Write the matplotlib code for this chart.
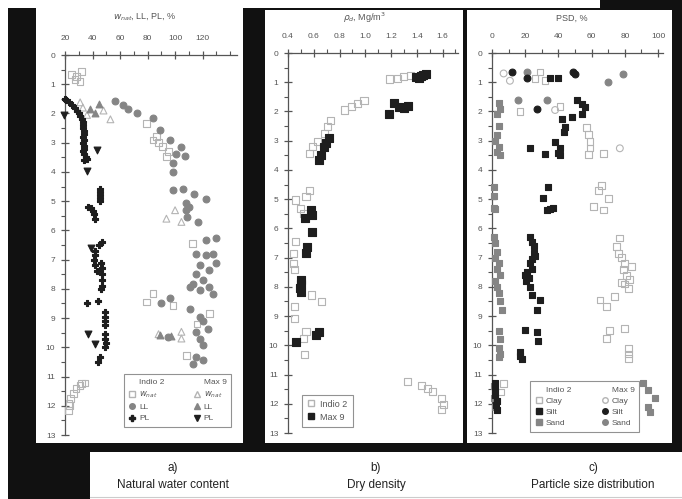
import matplotlib
matplotlib.use("Agg")
import matplotlib.pyplot as plt
from matplotlib.patches import Rectangle
from matplotlib.lines import Line2D
from matplotlib.ticker import MultipleLocator

plt.rcParams['font.family'] = ['Liberation Sans', 'DejaVu Sans']

# ---------------- a) natural water content, LL, PL ----------------
indio_wnat_x = [24.8, 28.4, 32, 30.9, 27.2, 79, 86.4, 91, 93.7, 84, 88, 95, 112.8, 84, 79, 98.5, 125, 116,
                108.2, 34.5, 30.9, 28, 26, 24.1, 22.9, 22.4, 23, 32]
indio_wnat_d = [0.68, 0.74, 0.57, 0.91, 0.85, 2.34, 2.8, 3.14, 3.48, 2.91, 3.0, 3.3, 6.46, 8.16, 8.45, 8.56,
                8.85, 9.2, 10.27, 11.22, 11.3, 11.42, 11.59, 11.76, 11.93, 12.16, 12.0, 11.25]
indio_ll_x = [56, 62, 66, 72, 84, 89, 96, 101, 107, 98.5, 98.5, 104, 98.5, 105.7, 114, 122.7, 108, 108,
              108.5, 116.6, 110, 122.7, 130, 115.4, 122.7, 127.5, 125, 115.4, 120.3, 113, 125, 118, 127.5,
              110.6, 130, 118, 96, 90, 110.6, 118, 120, 124, 94.8, 115.4, 118, 120.3, 115.4, 120.3, 113]
indio_ll_d = [1.56, 1.7, 1.86, 2.0, 2.17, 2.57, 2.91, 3.37, 3.46, 3.71, 4.0, 3.15, 4.62, 4.57, 4.74, 4.94,
              5.08, 5.31, 5.54, 5.71, 5.2, 6.34, 6.27, 6.8, 6.85, 6.8, 7.36, 7.48, 7.7, 7.82, 7.93, 8.05,
              8.16, 7.93, 7.1, 7.2, 8.33, 8.5, 8.68, 8.96, 9.1, 9.36, 9.65, 9.47, 9.7, 9.93, 10.33, 10.44,
              10.56]
indio_pl_x = [20, 21, 23, 25, 27, 29, 30, 31, 32, 33, 33, 33, 33.5, 33.5, 33, 33.5, 33, 33.5, 34, 33, 34,
              35, 34, 36, 45.4, 45.4, 45.4, 45.4, 45.4, 37, 39, 40, 41, 41.7, 46.6, 45, 41.7, 42, 41, 42,
              43.5, 46, 46.6, 47, 46.6, 47, 46, 44, 36.2, 49, 49, 49, 49, 49, 49, 49.5, 49, 45.4, 44.2]
indio_pl_d = [1.5, 1.55, 1.62, 1.7, 1.8, 1.9, 2.0, 2.1, 2.2, 2.3, 2.4, 2.5, 2.6, 2.7, 2.8, 2.9, 3.0, 3.1,
              3.2, 3.3, 3.4, 3.5, 3.6, 3.55, 4.6, 4.7, 4.8, 4.9, 5.0, 5.2, 5.25, 5.35, 5.45, 5.6, 6.4, 6.5,
              6.7, 6.85, 7.0, 7.2, 7.4, 7.1, 7.3, 7.5, 7.7, 7.9, 8.0, 8.4, 8.5, 8.8, 8.95, 9.1, 9.25, 9.55,
              9.7, 9.85, 10.0, 10.33, 10.5]
max_wnat_x = [31, 33, 36, 53, 48, 93.7, 100, 104.6, 88, 104.6, 104.6]
max_wnat_d = [1.62, 1.8, 2.05, 2.2, 1.9, 5.6, 5.31, 5.71, 9.55, 9.47, 9.7]
max_ll_x = [45, 38, 42, 88.8, 97]
max_ll_d = [1.68, 1.85, 2.0, 9.59, 9.6]
max_pl_x = [19, 43, 36, 37, 41.7, 39]
max_pl_d = [2.05, 3.25, 3.97, 9.53, 9.87, 6.6]

# ---------------- b) dry density ----------------
indio_rho_x = [1.185, 1.25, 1.30, 1.35, 0.836, 0.89, 0.94, 0.99, 0.73, 0.71, 0.68, 0.63, 0.59, 0.565,
               0.565, 0.54, 0.46, 0.50, 0.52, 0.46, 0.44, 0.44, 0.45, 0.58, 0.66, 0.45, 0.45, 0.54, 0.52,
               0.53, 1.33, 1.44, 1.48, 1.52, 1.59, 1.61, 1.59]
indio_rho_d = [0.89, 0.87, 0.81, 0.76, 1.95, 1.84, 1.72, 1.61, 2.3, 2.52, 2.75, 3.03, 3.2, 3.43, 4.69,
               4.91, 5.03, 5.31, 5.48, 6.46, 6.85, 7.2, 7.4, 8.28, 8.51, 8.68, 9.08, 9.53, 9.76, 10.33,
               11.24, 11.36, 11.47, 11.58, 11.81, 12.04, 12.2]
max_rho_x = [1.39, 1.43, 1.47, 1.42, 1.45, 1.22, 1.26, 1.30, 1.33, 1.185, 0.72, 0.695, 0.68, 0.64, 0.66,
             0.58, 0.59, 0.53, 0.59, 0.55, 0.54, 0.5, 0.5, 0.49, 0.5, 0.64, 0.62, 0.46]
max_rho_d = [0.83, 0.79, 0.73, 0.86, 0.76, 1.72, 1.84, 1.89, 1.8, 2.09, 2.92, 3.09, 3.2, 3.66, 3.5, 5.37,
             5.54, 5.66, 6.11, 6.63, 6.85, 7.77, 7.9, 8.05, 8.17, 9.53, 9.65, 9.88]

# ---------------- c) particle size distribution ----------------
indio_clay_x = [28.9, 25.9, 31.9, 16.9, 41, 57, 58, 59, 59, 58, 67, 66, 70, 61, 67, 64, 77, 75, 76, 78,
                80, 79, 81, 83, 80, 82, 78, 84, 65, 69, 74, 71, 69, 80, 82, 82, 82, 6.8, 5]
indio_clay_d = [0.65, 0.87, 0.93, 1.99, 1.84, 2.56, 2.8, 3.03, 3.25, 3.47, 3.43, 4.52, 4.97, 5.25, 5.37,
                4.7, 6.33, 6.63, 6.85, 7.0, 7.2, 7.4, 7.6, 7.75, 7.9, 8.05, 7.85, 7.3, 8.45, 8.68, 8.33,
                9.48, 9.76, 9.42, 10.1, 10.3, 10.45, 11.3, 11.6]
indio_silt_x = [35, 40, 51, 54, 56, 54, 48, 42, 44, 43.6, 38, 41, 40, 31.9, 22.9, 41, 34, 31, 33.3, 37, 35,
                23, 24, 25, 25, 23, 24, 20, 20.5, 23, 22, 21, 24, 26, 24, 29, 27, 20, 27, 28, 17, 18, 17,
                1.8, 2, 2.8, 2.5, 2, 3]
indio_silt_d = [0.87, 0.87, 1.62, 1.73, 1.86, 2.07, 2.18, 2.27, 2.52, 2.7, 3.03, 3.26, 3.43, 3.45, 3.26,
                3.5, 4.57, 4.97, 5.37, 5.29, 5.35, 6.3, 6.45, 6.6, 6.85, 7.2, 7.4, 7.6, 7.8, 8.0, 7.7, 7.5,
                7.05, 6.95, 8.28, 8.45, 8.8, 9.48, 9.53, 9.84, 10.24, 10.47, 10.35, 11.3, 11.5, 11.9, 12.05,
                11.7, 12.2]
indio_sand_x = [4, 5, 3, 4, 3, 2, 4, 3, 5, 1, 1, 1.5, 2, 1, 2, 3, 2, 4, 3, 5, 2, 3, 4, 5, 5.8, 4, 5, 4,
                5, 4, 1, 1.5, 2, 91, 94, 98, 94, 95]
indio_sand_d = [1.7, 1.9, 2.1, 2.5, 2.8, 3.0, 3.2, 3.4, 3.5, 4.6, 4.9, 5.3, 5.35, 6.3, 6.5, 6.8, 7.0, 7.2,
                7.4, 7.6, 7.8, 8.0, 8.2, 8.5, 8.8, 9.5, 9.8, 10.1, 10.3, 10.4, 11.4, 11.8, 12.1, 11.3,
                11.53, 11.8, 12.1, 12.27]
max_clay_x = [7, 10.8, 77, 38]
max_clay_d = [0.7, 0.95, 3.26, 1.95]
max_silt_x = [11.8, 20.9, 49, 50, 26.9]
max_silt_d = [0.65, 0.87, 0.66, 0.72, 1.93]
max_sand_x = [70, 79, 15.9, 33, 20.9]
max_sand_d = [0.98, 0.72, 1.61, 1.61, 0.65]

W, H = 682, 499
BLACK = '#111111'
DARK = '#1e1e1e'
MID = '#858585'
LIGHT = '#b4b4b4'
TXT = '#555555'


def frac(x0, y0, x1, y1):
    # pixel box (top-left origin) -> figure fraction rectangle
    return [x0 / W, 1 - y1 / H, (x1 - x0) / W, (y1 - y0) / H]


fig = plt.figure(figsize=(W / 100, H / 100), dpi=100)

# black mounting behind the three panels
blocks = [
    ((8, 8, 682, 452), BLACK),
    ((600, 0, 682, 8), BLACK),
    ((8, 452, 90, 499), BLACK),
    ((36, 0, 243, 443), 'white'),
    ((265, 10, 463, 443), 'white'),
    ((467, 10, 672, 443), 'white'),
    ((90, 452, 682, 499), 'white'),
]
for (x0, y0, x1, y1), col in blocks:
    l, b, w, h = frac(x0, y0, x1, y1)
    fig.add_artist(Rectangle((l, b), w, h, transform=fig.transFigure, facecolor=col,
                             edgecolor='none', zorder=-10))
fig.add_artist(Line2D([90 / W, 682 / W], [1 - 497 / H] * 2, transform=fig.transFigure,
                      color='#cccccc', lw=0.8, zorder=-5))


def make_panel(box, xlim, xmajor, xminor):
    ax = fig.add_axes(frac(*box))
    ax.set_facecolor('none')
    ax.set_xlim(*xlim)
    ax.set_ylim(13, 0)
    ax.xaxis.tick_top()
    ax.spines['right'].set_visible(False)
    ax.spines['bottom'].set_visible(False)
    for s in ('left', 'top'):
        ax.spines[s].set_color(TXT)
        ax.spines[s].set_linewidth(0.9)
    ax.xaxis.set_major_locator(MultipleLocator(xmajor))
    ax.xaxis.set_minor_locator(MultipleLocator(xminor))
    ax.yaxis.set_major_locator(MultipleLocator(1))
    ax.yaxis.set_minor_locator(MultipleLocator(0.5))
    ax.tick_params(which='major', direction='inout', length=6, width=0.9, color=TXT,
                   labelsize=6, labelcolor=TXT)
    ax.tick_params(which='minor', direction='out', length=3, width=0.8, color=TXT)
    ax.tick_params(axis='x', which='major', pad=6)
    ax.tick_params(axis='y', which='major', pad=4)
    return ax


def pts(ax, x, y, marker, face, edge, size=24, z=3):
    ax.scatter(x, y, s=size, marker=marker, facecolors=face, edgecolors=edge, linewidths=0.8,
               zorder=z, clip_on=False)


def style_legend(leg):
    leg.get_frame().set_linewidth(0.8)
    for t in leg.get_texts():
        t.set_color(TXT)


# a) Atterberg limits and water content
ax_a = make_panel((65, 55, 237, 435), (20, 145), 20, 10)
ax_a.set_xticks([20, 40, 60, 80, 100, 120])
pts(ax_a, indio_wnat_x, indio_wnat_d, 's', 'none', LIGHT)
pts(ax_a, max_wnat_x, max_wnat_d, '^', 'none', LIGHT)
pts(ax_a, indio_ll_x, indio_ll_d, 'o', MID, MID)
pts(ax_a, max_ll_x, max_ll_d, '^', MID, MID)
pts(ax_a, indio_pl_x, indio_pl_d, 'P', DARK, DARK, size=22)
pts(ax_a, max_pl_x, max_pl_d, 'v', DARK, DARK)
fig.text(145 / W, 1 - 17 / H, r'$w_{nat}$, LL, PL, %', ha='center', va='center', fontsize=6.5,
         color=TXT)

blank = Line2D([], [], linestyle='none')
h_a = [blank,
       Line2D([], [], ls='none', marker='s', mfc='none', mec=LIGHT, ms=4),
       Line2D([], [], ls='none', marker='o', mfc=MID, mec=MID, ms=4),
       Line2D([], [], ls='none', marker='P', mfc=DARK, mec=DARK, ms=4),
       blank,
       Line2D([], [], ls='none', marker='^', mfc='none', mec=LIGHT, ms=4),
       Line2D([], [], ls='none', marker='^', mfc=MID, mec=MID, ms=4),
       Line2D([], [], ls='none', marker='v', mfc=DARK, mec=DARK, ms=4)]
l_a = ['Indio 2', r'$w_{nat}$', 'LL', 'PL', 'Max 9', r'$w_{nat}$', 'LL', 'PL']
style_legend(ax_a.legend(h_a, l_a, ncol=2, loc='lower right', bbox_to_anchor=(0.99, 0.01), fontsize=6,
                         frameon=True, fancybox=False, edgecolor='#777777', handlelength=1.0,
                         handletextpad=0.3, columnspacing=3.4, labelspacing=0.4, borderpad=0.55))

# b) dry density
ax_b = make_panel((288, 53, 458, 433), (0.4, 1.72), 0.2, 0.1)
ax_b.set_xticks([0.4, 0.6, 0.8, 1.0, 1.2, 1.4, 1.6])
ax_b.set_xticklabels(['0.4', '0.6', '0.8', '1.0', '1.2', '1.4', '1.6'])
pts(ax_b, indio_rho_x, indio_rho_d, 's', 'none', LIGHT, size=26)
pts(ax_b, max_rho_x, max_rho_d, 's', DARK, DARK, size=26)
fig.text(365 / W, 1 - 18 / H, r'$\rho_d$, Mg/m$^3$', ha='center', va='center', fontsize=6.5,
         color=TXT)
h_b = [Line2D([], [], ls='none', marker='s', mfc='none', mec=LIGHT, ms=4.5),
       Line2D([], [], ls='none', marker='s', mfc=DARK, mec=DARK, ms=4.5)]
style_legend(ax_b.legend(h_b, ['Indio 2', 'Max 9'], loc='lower left', bbox_to_anchor=(0.055, 0.005),
                         fontsize=6.5, frameon=True, fancybox=False, edgecolor='#777777',
                         handlelength=1.0, handletextpad=0.5, labelspacing=0.45, borderpad=0.55))

# c) particle size distribution
ax_c = make_panel((492, 53, 663, 433), (0, 103), 20, 10)
ax_c.set_xticks([0, 20, 40, 60, 80, 100])
pts(ax_c, indio_sand_x, indio_sand_d, 's', MID, MID)
pts(ax_c, max_sand_x, max_sand_d, 'o', MID, MID)
pts(ax_c, indio_clay_x, indio_clay_d, 's', 'none', LIGHT)
pts(ax_c, max_clay_x, max_clay_d, 'o', 'none', LIGHT)
pts(ax_c, indio_silt_x, indio_silt_d, 's', DARK, DARK)
pts(ax_c, max_silt_x, max_silt_d, 'o', DARK, DARK)
fig.text(572 / W, 1 - 18 / H, 'PSD, %', ha='center', va='center', fontsize=6.5, color=TXT)
h_c = [blank,
       Line2D([], [], ls='none', marker='s', mfc='none', mec=LIGHT, ms=4),
       Line2D([], [], ls='none', marker='s', mfc=DARK, mec=DARK, ms=4),
       Line2D([], [], ls='none', marker='s', mfc=MID, mec=MID, ms=4),
       blank,
       Line2D([], [], ls='none', marker='o', mfc='none', mec=LIGHT, ms=4),
       Line2D([], [], ls='none', marker='o', mfc=DARK, mec=DARK, ms=4),
       Line2D([], [], ls='none', marker='o', mfc=MID, mec=MID, ms=4)]
l_c = ['Indio 2', 'Clay', 'Silt', 'Sand', 'Max 9', 'Clay', 'Silt', 'Sand']
style_legend(ax_c.legend(h_c, l_c, ncol=2, loc='lower left', bbox_to_anchor=(0.2, -0.008), fontsize=6,
                         frameon=True, fancybox=False, edgecolor='#777777', handlelength=1.0,
                         handletextpad=0.3, columnspacing=3.6, labelspacing=0.4, borderpad=0.55))

# captions under the panels
captions = [(173, 'a)', 'Natural water content'),
            (376, 'b)', 'Dry density'),
            (593, 'c)', 'Particle size distribution')]
for cx, tag, name in captions:
    fig.text(cx / W, 1 - 468 / H, tag, ha='center', va='center', fontsize=8.5, color='#222222')
    fig.text(cx / W, 1 - 485 / H, name, ha='center', va='center', fontsize=8.5, color='#222222')

fig.savefig('out.png', dpi=100)
